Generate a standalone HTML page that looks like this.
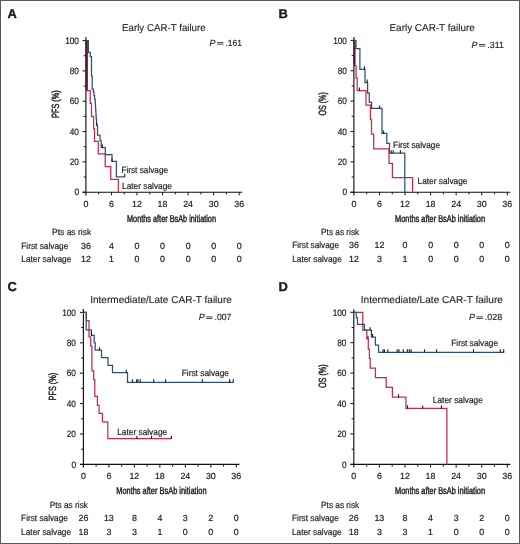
<!DOCTYPE html><html><head><meta charset="utf-8"><style>html,body{margin:0;padding:0;background:#fff;}svg{display:block;will-change:transform;}text{font-family:"Liberation Sans",sans-serif;fill:#1e1e1e;text-rendering:geometricPrecision;stroke-linejoin:round;}</style></head><body>
<svg width="520" height="544" viewBox="0 0 520 544">
<rect x="0" y="0" width="520" height="544" fill="#fff"/>
<line x1="85.90" y1="37.00" x2="85.90" y2="195.40" stroke="#111" stroke-width="1.15"/>
<line x1="82.50" y1="192.20" x2="242.30" y2="192.20" stroke="#111" stroke-width="1.15"/>
<line x1="82.50" y1="192.20" x2="85.90" y2="192.20" stroke="#111" stroke-width="1.0"/>
<line x1="83.70" y1="177.04" x2="85.90" y2="177.04" stroke="#111" stroke-width="1.0"/>
<line x1="82.50" y1="161.88" x2="85.90" y2="161.88" stroke="#111" stroke-width="1.0"/>
<text x="79.00" y="165.13" font-size="9.3" stroke="#1e1e1e" stroke-width="0.2" text-anchor="end" textLength="9.24" lengthAdjust="spacingAndGlyphs">20</text>
<line x1="83.70" y1="146.72" x2="85.90" y2="146.72" stroke="#111" stroke-width="1.0"/>
<line x1="82.50" y1="131.56" x2="85.90" y2="131.56" stroke="#111" stroke-width="1.0"/>
<text x="79.00" y="134.81" font-size="9.3" stroke="#1e1e1e" stroke-width="0.2" text-anchor="end" textLength="9.24" lengthAdjust="spacingAndGlyphs">40</text>
<line x1="83.70" y1="116.40" x2="85.90" y2="116.40" stroke="#111" stroke-width="1.0"/>
<line x1="82.50" y1="101.24" x2="85.90" y2="101.24" stroke="#111" stroke-width="1.0"/>
<text x="79.00" y="104.49" font-size="9.3" stroke="#1e1e1e" stroke-width="0.2" text-anchor="end" textLength="9.24" lengthAdjust="spacingAndGlyphs">60</text>
<line x1="83.70" y1="86.08" x2="85.90" y2="86.08" stroke="#111" stroke-width="1.0"/>
<line x1="82.50" y1="70.92" x2="85.90" y2="70.92" stroke="#111" stroke-width="1.0"/>
<text x="79.00" y="74.17" font-size="9.3" stroke="#1e1e1e" stroke-width="0.2" text-anchor="end" textLength="9.24" lengthAdjust="spacingAndGlyphs">80</text>
<line x1="83.70" y1="55.76" x2="85.90" y2="55.76" stroke="#111" stroke-width="1.0"/>
<line x1="82.50" y1="40.60" x2="85.90" y2="40.60" stroke="#111" stroke-width="1.0"/>
<text x="79.00" y="43.85" font-size="9.3" stroke="#1e1e1e" stroke-width="0.2" text-anchor="end" textLength="13.86" lengthAdjust="spacingAndGlyphs">100</text>
<text x="79.00" y="195.45" font-size="9.3" stroke="#1e1e1e" stroke-width="0.2" text-anchor="end" textLength="4.62" lengthAdjust="spacingAndGlyphs">0</text>
<text x="85.90" y="206.70" font-size="8.9" stroke="#1e1e1e" stroke-width="0.2" text-anchor="middle">0</text>
<line x1="98.68" y1="192.20" x2="98.68" y2="194.40" stroke="#111" stroke-width="1.0"/>
<line x1="111.45" y1="192.20" x2="111.45" y2="195.40" stroke="#111" stroke-width="1.0"/>
<text x="111.45" y="206.70" font-size="8.9" stroke="#1e1e1e" stroke-width="0.2" text-anchor="middle">6</text>
<line x1="124.22" y1="192.20" x2="124.22" y2="194.40" stroke="#111" stroke-width="1.0"/>
<line x1="137.00" y1="192.20" x2="137.00" y2="195.40" stroke="#111" stroke-width="1.0"/>
<text x="137.00" y="206.70" font-size="8.9" stroke="#1e1e1e" stroke-width="0.2" text-anchor="middle">12</text>
<line x1="149.78" y1="192.20" x2="149.78" y2="194.40" stroke="#111" stroke-width="1.0"/>
<line x1="162.55" y1="192.20" x2="162.55" y2="195.40" stroke="#111" stroke-width="1.0"/>
<text x="162.55" y="206.70" font-size="8.9" stroke="#1e1e1e" stroke-width="0.2" text-anchor="middle">18</text>
<line x1="175.32" y1="192.20" x2="175.32" y2="194.40" stroke="#111" stroke-width="1.0"/>
<line x1="188.10" y1="192.20" x2="188.10" y2="195.40" stroke="#111" stroke-width="1.0"/>
<text x="188.10" y="206.70" font-size="8.9" stroke="#1e1e1e" stroke-width="0.2" text-anchor="middle">24</text>
<line x1="200.88" y1="192.20" x2="200.88" y2="194.40" stroke="#111" stroke-width="1.0"/>
<line x1="213.65" y1="192.20" x2="213.65" y2="195.40" stroke="#111" stroke-width="1.0"/>
<text x="213.65" y="206.70" font-size="8.9" stroke="#1e1e1e" stroke-width="0.2" text-anchor="middle">30</text>
<line x1="226.42" y1="192.20" x2="226.42" y2="194.40" stroke="#111" stroke-width="1.0"/>
<line x1="239.20" y1="192.20" x2="239.20" y2="195.40" stroke="#111" stroke-width="1.0"/>
<text x="239.20" y="206.70" font-size="8.9" stroke="#1e1e1e" stroke-width="0.2" text-anchor="middle">36</text>
<line x1="353.90" y1="37.10" x2="353.90" y2="195.40" stroke="#111" stroke-width="1.15"/>
<line x1="350.50" y1="192.20" x2="510.40" y2="192.20" stroke="#111" stroke-width="1.15"/>
<line x1="350.50" y1="192.20" x2="353.90" y2="192.20" stroke="#111" stroke-width="1.0"/>
<line x1="351.70" y1="177.02" x2="353.90" y2="177.02" stroke="#111" stroke-width="1.0"/>
<line x1="350.50" y1="161.84" x2="353.90" y2="161.84" stroke="#111" stroke-width="1.0"/>
<text x="347.00" y="165.09" font-size="9.3" stroke="#1e1e1e" stroke-width="0.2" text-anchor="end" textLength="9.24" lengthAdjust="spacingAndGlyphs">20</text>
<line x1="351.70" y1="146.66" x2="353.90" y2="146.66" stroke="#111" stroke-width="1.0"/>
<line x1="350.50" y1="131.48" x2="353.90" y2="131.48" stroke="#111" stroke-width="1.0"/>
<text x="347.00" y="134.73" font-size="9.3" stroke="#1e1e1e" stroke-width="0.2" text-anchor="end" textLength="9.24" lengthAdjust="spacingAndGlyphs">40</text>
<line x1="351.70" y1="116.30" x2="353.90" y2="116.30" stroke="#111" stroke-width="1.0"/>
<line x1="350.50" y1="101.12" x2="353.90" y2="101.12" stroke="#111" stroke-width="1.0"/>
<text x="347.00" y="104.37" font-size="9.3" stroke="#1e1e1e" stroke-width="0.2" text-anchor="end" textLength="9.24" lengthAdjust="spacingAndGlyphs">60</text>
<line x1="351.70" y1="85.94" x2="353.90" y2="85.94" stroke="#111" stroke-width="1.0"/>
<line x1="350.50" y1="70.76" x2="353.90" y2="70.76" stroke="#111" stroke-width="1.0"/>
<text x="347.00" y="74.01" font-size="9.3" stroke="#1e1e1e" stroke-width="0.2" text-anchor="end" textLength="9.24" lengthAdjust="spacingAndGlyphs">80</text>
<line x1="351.70" y1="55.58" x2="353.90" y2="55.58" stroke="#111" stroke-width="1.0"/>
<line x1="350.50" y1="40.40" x2="353.90" y2="40.40" stroke="#111" stroke-width="1.0"/>
<text x="347.00" y="43.65" font-size="9.3" stroke="#1e1e1e" stroke-width="0.2" text-anchor="end" textLength="13.86" lengthAdjust="spacingAndGlyphs">100</text>
<text x="347.00" y="195.45" font-size="9.3" stroke="#1e1e1e" stroke-width="0.2" text-anchor="end" textLength="4.62" lengthAdjust="spacingAndGlyphs">0</text>
<text x="353.90" y="206.70" font-size="8.9" stroke="#1e1e1e" stroke-width="0.2" text-anchor="middle">0</text>
<line x1="366.68" y1="192.20" x2="366.68" y2="194.40" stroke="#111" stroke-width="1.0"/>
<line x1="379.47" y1="192.20" x2="379.47" y2="195.40" stroke="#111" stroke-width="1.0"/>
<text x="379.47" y="206.70" font-size="8.9" stroke="#1e1e1e" stroke-width="0.2" text-anchor="middle">6</text>
<line x1="392.25" y1="192.20" x2="392.25" y2="194.40" stroke="#111" stroke-width="1.0"/>
<line x1="405.03" y1="192.20" x2="405.03" y2="195.40" stroke="#111" stroke-width="1.0"/>
<text x="405.03" y="206.70" font-size="8.9" stroke="#1e1e1e" stroke-width="0.2" text-anchor="middle">12</text>
<line x1="417.82" y1="192.20" x2="417.82" y2="194.40" stroke="#111" stroke-width="1.0"/>
<line x1="430.60" y1="192.20" x2="430.60" y2="195.40" stroke="#111" stroke-width="1.0"/>
<text x="430.60" y="206.70" font-size="8.9" stroke="#1e1e1e" stroke-width="0.2" text-anchor="middle">18</text>
<line x1="443.38" y1="192.20" x2="443.38" y2="194.40" stroke="#111" stroke-width="1.0"/>
<line x1="456.17" y1="192.20" x2="456.17" y2="195.40" stroke="#111" stroke-width="1.0"/>
<text x="456.17" y="206.70" font-size="8.9" stroke="#1e1e1e" stroke-width="0.2" text-anchor="middle">24</text>
<line x1="468.95" y1="192.20" x2="468.95" y2="194.40" stroke="#111" stroke-width="1.0"/>
<line x1="481.73" y1="192.20" x2="481.73" y2="195.40" stroke="#111" stroke-width="1.0"/>
<text x="481.73" y="206.70" font-size="8.9" stroke="#1e1e1e" stroke-width="0.2" text-anchor="middle">30</text>
<line x1="494.52" y1="192.20" x2="494.52" y2="194.40" stroke="#111" stroke-width="1.0"/>
<line x1="507.30" y1="192.20" x2="507.30" y2="195.40" stroke="#111" stroke-width="1.0"/>
<text x="507.30" y="206.70" font-size="8.9" stroke="#1e1e1e" stroke-width="0.2" text-anchor="middle">36</text>
<line x1="83.40" y1="309.00" x2="83.40" y2="467.60" stroke="#111" stroke-width="1.15"/>
<line x1="80.00" y1="464.40" x2="239.40" y2="464.40" stroke="#111" stroke-width="1.15"/>
<line x1="80.00" y1="464.40" x2="83.40" y2="464.40" stroke="#111" stroke-width="1.0"/>
<line x1="81.20" y1="449.20" x2="83.40" y2="449.20" stroke="#111" stroke-width="1.0"/>
<line x1="80.00" y1="434.00" x2="83.40" y2="434.00" stroke="#111" stroke-width="1.0"/>
<text x="76.00" y="437.25" font-size="9.3" stroke="#1e1e1e" stroke-width="0.2" text-anchor="end" textLength="9.24" lengthAdjust="spacingAndGlyphs">20</text>
<line x1="81.20" y1="418.80" x2="83.40" y2="418.80" stroke="#111" stroke-width="1.0"/>
<line x1="80.00" y1="403.60" x2="83.40" y2="403.60" stroke="#111" stroke-width="1.0"/>
<text x="76.00" y="406.85" font-size="9.3" stroke="#1e1e1e" stroke-width="0.2" text-anchor="end" textLength="9.24" lengthAdjust="spacingAndGlyphs">40</text>
<line x1="81.20" y1="388.40" x2="83.40" y2="388.40" stroke="#111" stroke-width="1.0"/>
<line x1="80.00" y1="373.20" x2="83.40" y2="373.20" stroke="#111" stroke-width="1.0"/>
<text x="76.00" y="376.45" font-size="9.3" stroke="#1e1e1e" stroke-width="0.2" text-anchor="end" textLength="9.24" lengthAdjust="spacingAndGlyphs">60</text>
<line x1="81.20" y1="358.00" x2="83.40" y2="358.00" stroke="#111" stroke-width="1.0"/>
<line x1="80.00" y1="342.80" x2="83.40" y2="342.80" stroke="#111" stroke-width="1.0"/>
<text x="76.00" y="346.05" font-size="9.3" stroke="#1e1e1e" stroke-width="0.2" text-anchor="end" textLength="9.24" lengthAdjust="spacingAndGlyphs">80</text>
<line x1="81.20" y1="327.60" x2="83.40" y2="327.60" stroke="#111" stroke-width="1.0"/>
<line x1="80.00" y1="312.40" x2="83.40" y2="312.40" stroke="#111" stroke-width="1.0"/>
<text x="76.00" y="315.65" font-size="9.3" stroke="#1e1e1e" stroke-width="0.2" text-anchor="end" textLength="13.86" lengthAdjust="spacingAndGlyphs">100</text>
<text x="76.00" y="467.65" font-size="9.3" stroke="#1e1e1e" stroke-width="0.2" text-anchor="end" textLength="4.62" lengthAdjust="spacingAndGlyphs">0</text>
<text x="83.40" y="478.90" font-size="8.9" stroke="#1e1e1e" stroke-width="0.2" text-anchor="middle">0</text>
<line x1="96.14" y1="464.40" x2="96.14" y2="466.60" stroke="#111" stroke-width="1.0"/>
<line x1="108.88" y1="464.40" x2="108.88" y2="467.60" stroke="#111" stroke-width="1.0"/>
<text x="108.88" y="478.90" font-size="8.9" stroke="#1e1e1e" stroke-width="0.2" text-anchor="middle">6</text>
<line x1="121.62" y1="464.40" x2="121.62" y2="466.60" stroke="#111" stroke-width="1.0"/>
<line x1="134.37" y1="464.40" x2="134.37" y2="467.60" stroke="#111" stroke-width="1.0"/>
<text x="134.37" y="478.90" font-size="8.9" stroke="#1e1e1e" stroke-width="0.2" text-anchor="middle">12</text>
<line x1="147.11" y1="464.40" x2="147.11" y2="466.60" stroke="#111" stroke-width="1.0"/>
<line x1="159.85" y1="464.40" x2="159.85" y2="467.60" stroke="#111" stroke-width="1.0"/>
<text x="159.85" y="478.90" font-size="8.9" stroke="#1e1e1e" stroke-width="0.2" text-anchor="middle">18</text>
<line x1="172.59" y1="464.40" x2="172.59" y2="466.60" stroke="#111" stroke-width="1.0"/>
<line x1="185.33" y1="464.40" x2="185.33" y2="467.60" stroke="#111" stroke-width="1.0"/>
<text x="185.33" y="478.90" font-size="8.9" stroke="#1e1e1e" stroke-width="0.2" text-anchor="middle">24</text>
<line x1="198.08" y1="464.40" x2="198.08" y2="466.60" stroke="#111" stroke-width="1.0"/>
<line x1="210.82" y1="464.40" x2="210.82" y2="467.60" stroke="#111" stroke-width="1.0"/>
<text x="210.82" y="478.90" font-size="8.9" stroke="#1e1e1e" stroke-width="0.2" text-anchor="middle">30</text>
<line x1="223.56" y1="464.40" x2="223.56" y2="466.60" stroke="#111" stroke-width="1.0"/>
<line x1="236.30" y1="464.40" x2="236.30" y2="467.60" stroke="#111" stroke-width="1.0"/>
<text x="236.30" y="478.90" font-size="8.9" stroke="#1e1e1e" stroke-width="0.2" text-anchor="middle">36</text>
<line x1="353.80" y1="309.20" x2="353.80" y2="467.60" stroke="#111" stroke-width="1.15"/>
<line x1="350.40" y1="464.40" x2="510.40" y2="464.40" stroke="#111" stroke-width="1.15"/>
<line x1="350.40" y1="464.40" x2="353.80" y2="464.40" stroke="#111" stroke-width="1.0"/>
<line x1="351.60" y1="449.19" x2="353.80" y2="449.19" stroke="#111" stroke-width="1.0"/>
<line x1="350.40" y1="433.98" x2="353.80" y2="433.98" stroke="#111" stroke-width="1.0"/>
<text x="346.50" y="437.23" font-size="9.3" stroke="#1e1e1e" stroke-width="0.2" text-anchor="end" textLength="9.24" lengthAdjust="spacingAndGlyphs">20</text>
<line x1="351.60" y1="418.77" x2="353.80" y2="418.77" stroke="#111" stroke-width="1.0"/>
<line x1="350.40" y1="403.56" x2="353.80" y2="403.56" stroke="#111" stroke-width="1.0"/>
<text x="346.50" y="406.81" font-size="9.3" stroke="#1e1e1e" stroke-width="0.2" text-anchor="end" textLength="9.24" lengthAdjust="spacingAndGlyphs">40</text>
<line x1="351.60" y1="388.35" x2="353.80" y2="388.35" stroke="#111" stroke-width="1.0"/>
<line x1="350.40" y1="373.14" x2="353.80" y2="373.14" stroke="#111" stroke-width="1.0"/>
<text x="346.50" y="376.39" font-size="9.3" stroke="#1e1e1e" stroke-width="0.2" text-anchor="end" textLength="9.24" lengthAdjust="spacingAndGlyphs">60</text>
<line x1="351.60" y1="357.93" x2="353.80" y2="357.93" stroke="#111" stroke-width="1.0"/>
<line x1="350.40" y1="342.72" x2="353.80" y2="342.72" stroke="#111" stroke-width="1.0"/>
<text x="346.50" y="345.97" font-size="9.3" stroke="#1e1e1e" stroke-width="0.2" text-anchor="end" textLength="9.24" lengthAdjust="spacingAndGlyphs">80</text>
<line x1="351.60" y1="327.51" x2="353.80" y2="327.51" stroke="#111" stroke-width="1.0"/>
<line x1="350.40" y1="312.30" x2="353.80" y2="312.30" stroke="#111" stroke-width="1.0"/>
<text x="346.50" y="315.55" font-size="9.3" stroke="#1e1e1e" stroke-width="0.2" text-anchor="end" textLength="13.86" lengthAdjust="spacingAndGlyphs">100</text>
<text x="346.50" y="467.65" font-size="9.3" stroke="#1e1e1e" stroke-width="0.2" text-anchor="end" textLength="4.62" lengthAdjust="spacingAndGlyphs">0</text>
<text x="353.80" y="478.90" font-size="8.9" stroke="#1e1e1e" stroke-width="0.2" text-anchor="middle">0</text>
<line x1="366.59" y1="464.40" x2="366.59" y2="466.60" stroke="#111" stroke-width="1.0"/>
<line x1="379.38" y1="464.40" x2="379.38" y2="467.60" stroke="#111" stroke-width="1.0"/>
<text x="379.38" y="478.90" font-size="8.9" stroke="#1e1e1e" stroke-width="0.2" text-anchor="middle">6</text>
<line x1="392.18" y1="464.40" x2="392.18" y2="466.60" stroke="#111" stroke-width="1.0"/>
<line x1="404.97" y1="464.40" x2="404.97" y2="467.60" stroke="#111" stroke-width="1.0"/>
<text x="404.97" y="478.90" font-size="8.9" stroke="#1e1e1e" stroke-width="0.2" text-anchor="middle">12</text>
<line x1="417.76" y1="464.40" x2="417.76" y2="466.60" stroke="#111" stroke-width="1.0"/>
<line x1="430.55" y1="464.40" x2="430.55" y2="467.60" stroke="#111" stroke-width="1.0"/>
<text x="430.55" y="478.90" font-size="8.9" stroke="#1e1e1e" stroke-width="0.2" text-anchor="middle">18</text>
<line x1="443.34" y1="464.40" x2="443.34" y2="466.60" stroke="#111" stroke-width="1.0"/>
<line x1="456.13" y1="464.40" x2="456.13" y2="467.60" stroke="#111" stroke-width="1.0"/>
<text x="456.13" y="478.90" font-size="8.9" stroke="#1e1e1e" stroke-width="0.2" text-anchor="middle">24</text>
<line x1="468.93" y1="464.40" x2="468.93" y2="466.60" stroke="#111" stroke-width="1.0"/>
<line x1="481.72" y1="464.40" x2="481.72" y2="467.60" stroke="#111" stroke-width="1.0"/>
<text x="481.72" y="478.90" font-size="8.9" stroke="#1e1e1e" stroke-width="0.2" text-anchor="middle">30</text>
<line x1="494.51" y1="464.40" x2="494.51" y2="466.60" stroke="#111" stroke-width="1.0"/>
<line x1="507.30" y1="464.40" x2="507.30" y2="467.60" stroke="#111" stroke-width="1.0"/>
<text x="507.30" y="478.90" font-size="8.9" stroke="#1e1e1e" stroke-width="0.2" text-anchor="middle">36</text>
<text x="7.50" y="18.30" font-size="12.9" stroke="#000" stroke-width="0.3" font-weight="bold" fill="#000">A</text>
<text x="278.40" y="18.30" font-size="12.9" stroke="#000" stroke-width="0.3" font-weight="bold" fill="#000">B</text>
<text x="7.40" y="290.90" font-size="12.9" stroke="#000" stroke-width="0.3" font-weight="bold" fill="#000">C</text>
<text x="278.40" y="290.90" font-size="12.9" stroke="#000" stroke-width="0.3" font-weight="bold" fill="#000">D</text>
<text x="122.00" y="30.80" font-size="10.0" stroke="#1e1e1e" stroke-width="0.12" textLength="83.70" lengthAdjust="spacingAndGlyphs">Early CAR-T failure</text>
<text x="389.50" y="30.80" font-size="10.0" stroke="#1e1e1e" stroke-width="0.12" textLength="85.30" lengthAdjust="spacingAndGlyphs">Early CAR-T failure</text>
<text x="90.20" y="302.90" font-size="10.0" stroke="#1e1e1e" stroke-width="0.12" textLength="141.70" lengthAdjust="spacingAndGlyphs">Intermediate/Late CAR-T failure</text>
<text x="360.80" y="302.90" font-size="10.0" stroke="#1e1e1e" stroke-width="0.12" textLength="142.10" lengthAdjust="spacingAndGlyphs">Intermediate/Late CAR-T failure</text>
<text x="209.60" y="46.00" font-size="8.9" font-style="italic" stroke="#1e1e1e" stroke-width="0.15">P</text>
<line x1="217.10" y1="42.55" x2="223.40" y2="42.55" stroke="#2a2a2a" stroke-width="0.85"/>
<line x1="217.10" y1="44.20" x2="223.40" y2="44.20" stroke="#2a2a2a" stroke-width="0.85"/>
<text x="225.40" y="46.00" font-size="8.9" stroke="#1e1e1e" stroke-width="0.15" textLength="16.50" lengthAdjust="spacingAndGlyphs">.161</text>
<text x="471.50" y="47.90" font-size="8.9" font-style="italic" stroke="#1e1e1e" stroke-width="0.15">P</text>
<line x1="479.00" y1="44.45" x2="485.30" y2="44.45" stroke="#2a2a2a" stroke-width="0.85"/>
<line x1="479.00" y1="46.10" x2="485.30" y2="46.10" stroke="#2a2a2a" stroke-width="0.85"/>
<text x="487.30" y="47.90" font-size="8.9" stroke="#1e1e1e" stroke-width="0.15" textLength="16.60" lengthAdjust="spacingAndGlyphs">.311</text>
<text x="198.70" y="320.30" font-size="8.9" font-style="italic" stroke="#1e1e1e" stroke-width="0.15">P</text>
<line x1="206.20" y1="316.85" x2="212.50" y2="316.85" stroke="#2a2a2a" stroke-width="0.85"/>
<line x1="206.20" y1="318.50" x2="212.50" y2="318.50" stroke="#2a2a2a" stroke-width="0.85"/>
<text x="214.50" y="320.30" font-size="8.9" stroke="#1e1e1e" stroke-width="0.15" textLength="16.80" lengthAdjust="spacingAndGlyphs">.007</text>
<text x="469.00" y="320.30" font-size="8.9" font-style="italic" stroke="#1e1e1e" stroke-width="0.15">P</text>
<line x1="476.50" y1="316.85" x2="482.80" y2="316.85" stroke="#2a2a2a" stroke-width="0.85"/>
<line x1="476.50" y1="318.50" x2="482.80" y2="318.50" stroke="#2a2a2a" stroke-width="0.85"/>
<text x="484.80" y="320.30" font-size="8.9" stroke="#1e1e1e" stroke-width="0.15" textLength="17.50" lengthAdjust="spacingAndGlyphs">.028</text>
<text transform="translate(58.60,104.10) rotate(-90)" x="0" y="0" font-size="10.4" stroke="#1e1e1e" stroke-width="0.45" text-anchor="middle" textLength="27.60" lengthAdjust="spacingAndGlyphs">PFS (%)</text>
<text transform="translate(326.40,103.90) rotate(-90)" x="0" y="0" font-size="10.4" stroke="#1e1e1e" stroke-width="0.45" text-anchor="middle" textLength="23.40" lengthAdjust="spacingAndGlyphs">OS (%)</text>
<text transform="translate(55.60,386.60) rotate(-90)" x="0" y="0" font-size="10.4" stroke="#1e1e1e" stroke-width="0.45" text-anchor="middle" textLength="27.80" lengthAdjust="spacingAndGlyphs">PFS (%)</text>
<text transform="translate(326.40,376.20) rotate(-90)" x="0" y="0" font-size="10.4" stroke="#1e1e1e" stroke-width="0.45" text-anchor="middle" textLength="23.80" lengthAdjust="spacingAndGlyphs">OS (%)</text>
<text x="127.00" y="221.60" font-size="10.0" stroke="#1e1e1e" stroke-width="0.45" textLength="89.00" lengthAdjust="spacingAndGlyphs">Months after BsAb initiation</text>
<text x="395.00" y="221.80" font-size="10.0" stroke="#1e1e1e" stroke-width="0.45" textLength="90.00" lengthAdjust="spacingAndGlyphs">Months after BsAb initiation</text>
<text x="116.20" y="493.70" font-size="10.0" stroke="#1e1e1e" stroke-width="0.45" textLength="90.40" lengthAdjust="spacingAndGlyphs">Months after BsAb initiation</text>
<text x="395.00" y="494.00" font-size="10.0" stroke="#1e1e1e" stroke-width="0.45" textLength="90.00" lengthAdjust="spacingAndGlyphs">Months after BsAb initiation</text>
<text x="52.00" y="234.50" font-size="9.0" stroke="#1e1e1e" stroke-width="0.2" textLength="39.20" lengthAdjust="spacingAndGlyphs">Pts as risk</text>
<text x="21.30" y="248.50" font-size="9.0" stroke="#1e1e1e" stroke-width="0.2" textLength="47.00" lengthAdjust="spacingAndGlyphs">First salvage</text>
<text x="21.30" y="261.90" font-size="9.0" stroke="#1e1e1e" stroke-width="0.2" textLength="50.00" lengthAdjust="spacingAndGlyphs">Later salvage</text>
<text x="85.90" y="248.50" font-size="8.9" stroke="#1e1e1e" stroke-width="0.2" text-anchor="middle">36</text>
<text x="85.90" y="261.90" font-size="8.9" stroke="#1e1e1e" stroke-width="0.2" text-anchor="middle">12</text>
<text x="111.45" y="248.50" font-size="8.9" stroke="#1e1e1e" stroke-width="0.2" text-anchor="middle">4</text>
<text x="111.45" y="261.90" font-size="8.9" stroke="#1e1e1e" stroke-width="0.2" text-anchor="middle">1</text>
<text x="137.00" y="248.50" font-size="8.9" stroke="#1e1e1e" stroke-width="0.2" text-anchor="middle">0</text>
<text x="137.00" y="261.90" font-size="8.9" stroke="#1e1e1e" stroke-width="0.2" text-anchor="middle">0</text>
<text x="162.55" y="248.50" font-size="8.9" stroke="#1e1e1e" stroke-width="0.2" text-anchor="middle">0</text>
<text x="162.55" y="261.90" font-size="8.9" stroke="#1e1e1e" stroke-width="0.2" text-anchor="middle">0</text>
<text x="188.10" y="248.50" font-size="8.9" stroke="#1e1e1e" stroke-width="0.2" text-anchor="middle">0</text>
<text x="188.10" y="261.90" font-size="8.9" stroke="#1e1e1e" stroke-width="0.2" text-anchor="middle">0</text>
<text x="213.65" y="248.50" font-size="8.9" stroke="#1e1e1e" stroke-width="0.2" text-anchor="middle">0</text>
<text x="213.65" y="261.90" font-size="8.9" stroke="#1e1e1e" stroke-width="0.2" text-anchor="middle">0</text>
<text x="239.20" y="248.50" font-size="8.9" stroke="#1e1e1e" stroke-width="0.2" text-anchor="middle">0</text>
<text x="239.20" y="261.90" font-size="8.9" stroke="#1e1e1e" stroke-width="0.2" text-anchor="middle">0</text>
<text x="321.10" y="234.70" font-size="9.0" stroke="#1e1e1e" stroke-width="0.2" textLength="38.10" lengthAdjust="spacingAndGlyphs">Pts as risk</text>
<text x="292.20" y="248.40" font-size="9.0" stroke="#1e1e1e" stroke-width="0.2" textLength="46.80" lengthAdjust="spacingAndGlyphs">First salvage</text>
<text x="292.20" y="261.80" font-size="9.0" stroke="#1e1e1e" stroke-width="0.2" textLength="49.60" lengthAdjust="spacingAndGlyphs">Later salvage</text>
<text x="353.90" y="248.40" font-size="8.9" stroke="#1e1e1e" stroke-width="0.2" text-anchor="middle">36</text>
<text x="353.90" y="261.80" font-size="8.9" stroke="#1e1e1e" stroke-width="0.2" text-anchor="middle">12</text>
<text x="379.47" y="248.40" font-size="8.9" stroke="#1e1e1e" stroke-width="0.2" text-anchor="middle">12</text>
<text x="379.47" y="261.80" font-size="8.9" stroke="#1e1e1e" stroke-width="0.2" text-anchor="middle">3</text>
<text x="405.03" y="248.40" font-size="8.9" stroke="#1e1e1e" stroke-width="0.2" text-anchor="middle">0</text>
<text x="405.03" y="261.80" font-size="8.9" stroke="#1e1e1e" stroke-width="0.2" text-anchor="middle">1</text>
<text x="430.60" y="248.40" font-size="8.9" stroke="#1e1e1e" stroke-width="0.2" text-anchor="middle">0</text>
<text x="430.60" y="261.80" font-size="8.9" stroke="#1e1e1e" stroke-width="0.2" text-anchor="middle">0</text>
<text x="456.17" y="248.40" font-size="8.9" stroke="#1e1e1e" stroke-width="0.2" text-anchor="middle">0</text>
<text x="456.17" y="261.80" font-size="8.9" stroke="#1e1e1e" stroke-width="0.2" text-anchor="middle">0</text>
<text x="481.73" y="248.40" font-size="8.9" stroke="#1e1e1e" stroke-width="0.2" text-anchor="middle">0</text>
<text x="481.73" y="261.80" font-size="8.9" stroke="#1e1e1e" stroke-width="0.2" text-anchor="middle">0</text>
<text x="507.30" y="248.40" font-size="8.9" stroke="#1e1e1e" stroke-width="0.2" text-anchor="middle">0</text>
<text x="507.30" y="261.80" font-size="8.9" stroke="#1e1e1e" stroke-width="0.2" text-anchor="middle">0</text>
<text x="49.70" y="507.70" font-size="9.0" stroke="#1e1e1e" stroke-width="0.2" textLength="38.30" lengthAdjust="spacingAndGlyphs">Pts as risk</text>
<text x="21.10" y="521.30" font-size="9.0" stroke="#1e1e1e" stroke-width="0.2" textLength="46.80" lengthAdjust="spacingAndGlyphs">First salvage</text>
<text x="21.10" y="534.60" font-size="9.0" stroke="#1e1e1e" stroke-width="0.2" textLength="50.00" lengthAdjust="spacingAndGlyphs">Later salvage</text>
<text x="83.40" y="521.30" font-size="8.9" stroke="#1e1e1e" stroke-width="0.2" text-anchor="middle">26</text>
<text x="83.40" y="534.60" font-size="8.9" stroke="#1e1e1e" stroke-width="0.2" text-anchor="middle">18</text>
<text x="108.88" y="521.30" font-size="8.9" stroke="#1e1e1e" stroke-width="0.2" text-anchor="middle">13</text>
<text x="108.88" y="534.60" font-size="8.9" stroke="#1e1e1e" stroke-width="0.2" text-anchor="middle">3</text>
<text x="134.37" y="521.30" font-size="8.9" stroke="#1e1e1e" stroke-width="0.2" text-anchor="middle">8</text>
<text x="134.37" y="534.60" font-size="8.9" stroke="#1e1e1e" stroke-width="0.2" text-anchor="middle">3</text>
<text x="159.85" y="521.30" font-size="8.9" stroke="#1e1e1e" stroke-width="0.2" text-anchor="middle">4</text>
<text x="159.85" y="534.60" font-size="8.9" stroke="#1e1e1e" stroke-width="0.2" text-anchor="middle">1</text>
<text x="185.33" y="521.30" font-size="8.9" stroke="#1e1e1e" stroke-width="0.2" text-anchor="middle">3</text>
<text x="185.33" y="534.60" font-size="8.9" stroke="#1e1e1e" stroke-width="0.2" text-anchor="middle">0</text>
<text x="210.82" y="521.30" font-size="8.9" stroke="#1e1e1e" stroke-width="0.2" text-anchor="middle">2</text>
<text x="210.82" y="534.60" font-size="8.9" stroke="#1e1e1e" stroke-width="0.2" text-anchor="middle">0</text>
<text x="236.30" y="521.30" font-size="8.9" stroke="#1e1e1e" stroke-width="0.2" text-anchor="middle">0</text>
<text x="236.30" y="534.60" font-size="8.9" stroke="#1e1e1e" stroke-width="0.2" text-anchor="middle">0</text>
<text x="321.10" y="507.70" font-size="9.0" stroke="#1e1e1e" stroke-width="0.2" textLength="38.10" lengthAdjust="spacingAndGlyphs">Pts as risk</text>
<text x="292.00" y="521.30" font-size="9.0" stroke="#1e1e1e" stroke-width="0.2" textLength="46.80" lengthAdjust="spacingAndGlyphs">First salvage</text>
<text x="292.00" y="534.60" font-size="9.0" stroke="#1e1e1e" stroke-width="0.2" textLength="49.60" lengthAdjust="spacingAndGlyphs">Later salvage</text>
<text x="353.80" y="521.30" font-size="8.9" stroke="#1e1e1e" stroke-width="0.2" text-anchor="middle">26</text>
<text x="353.80" y="534.60" font-size="8.9" stroke="#1e1e1e" stroke-width="0.2" text-anchor="middle">18</text>
<text x="379.38" y="521.30" font-size="8.9" stroke="#1e1e1e" stroke-width="0.2" text-anchor="middle">13</text>
<text x="379.38" y="534.60" font-size="8.9" stroke="#1e1e1e" stroke-width="0.2" text-anchor="middle">3</text>
<text x="404.97" y="521.30" font-size="8.9" stroke="#1e1e1e" stroke-width="0.2" text-anchor="middle">8</text>
<text x="404.97" y="534.60" font-size="8.9" stroke="#1e1e1e" stroke-width="0.2" text-anchor="middle">3</text>
<text x="430.55" y="521.30" font-size="8.9" stroke="#1e1e1e" stroke-width="0.2" text-anchor="middle">4</text>
<text x="430.55" y="534.60" font-size="8.9" stroke="#1e1e1e" stroke-width="0.2" text-anchor="middle">1</text>
<text x="456.13" y="521.30" font-size="8.9" stroke="#1e1e1e" stroke-width="0.2" text-anchor="middle">3</text>
<text x="456.13" y="534.60" font-size="8.9" stroke="#1e1e1e" stroke-width="0.2" text-anchor="middle">0</text>
<text x="481.72" y="521.30" font-size="8.9" stroke="#1e1e1e" stroke-width="0.2" text-anchor="middle">2</text>
<text x="481.72" y="534.60" font-size="8.9" stroke="#1e1e1e" stroke-width="0.2" text-anchor="middle">0</text>
<text x="507.30" y="521.30" font-size="8.9" stroke="#1e1e1e" stroke-width="0.2" text-anchor="middle">0</text>
<text x="507.30" y="534.60" font-size="8.9" stroke="#1e1e1e" stroke-width="0.2" text-anchor="middle">0</text>
<text x="121.40" y="172.80" font-size="9.0" stroke="#1e1e1e" stroke-width="0.2" textLength="46.70" lengthAdjust="spacingAndGlyphs">First salvage</text>
<text x="122.10" y="188.90" font-size="9.0" stroke="#1e1e1e" stroke-width="0.2" textLength="49.80" lengthAdjust="spacingAndGlyphs">Later salvage</text>
<text x="393.10" y="147.70" font-size="9.0" stroke="#1e1e1e" stroke-width="0.2" textLength="46.90" lengthAdjust="spacingAndGlyphs">First salvage</text>
<text x="417.50" y="184.20" font-size="9.0" stroke="#1e1e1e" stroke-width="0.2" textLength="50.00" lengthAdjust="spacingAndGlyphs">Later salvage</text>
<text x="181.70" y="376.00" font-size="9.0" stroke="#1e1e1e" stroke-width="0.2" textLength="47.30" lengthAdjust="spacingAndGlyphs">First salvage</text>
<text x="117.20" y="434.60" font-size="9.0" stroke="#1e1e1e" stroke-width="0.2" textLength="50.00" lengthAdjust="spacingAndGlyphs">Later salvage</text>
<text x="451.30" y="345.90" font-size="9.0" stroke="#1e1e1e" stroke-width="0.2" textLength="46.70" lengthAdjust="spacingAndGlyphs">First salvage</text>
<text x="432.80" y="402.80" font-size="9.0" stroke="#1e1e1e" stroke-width="0.2" textLength="50.10" lengthAdjust="spacingAndGlyphs">Later salvage</text>
<path d="M87.10,40.60 L87.10,90.70 L90.20,90.70 L90.20,103.30 L91.50,103.30 L91.50,116.30 L93.60,116.30 L93.60,128.60 L94.50,128.60 L94.50,141.40 L98.30,141.40 L98.30,153.90 L105.20,153.90 L105.20,166.60 L110.70,166.60 L110.70,179.30 L118.30,179.30 L118.30,192.20" fill="none" stroke="#c22d4e" stroke-width="1.25" stroke-linejoin="miter" stroke-linecap="butt"/>
<line x1="86.55" y1="40.6" x2="86.55" y2="90.4" stroke="#5e1a2e" stroke-width="2.3"/>
<path d="M85.90,40.60 L88.40,40.60 L88.40,52.40 L90.30,52.40 L90.30,56.60 L91.50,56.60 L91.50,76.00 L92.20,76.00 L92.20,89.00 L93.40,89.00 L93.40,92.00 L94.00,92.00 L94.00,95.67 L94.60,95.67 L94.60,99.33 L95.20,99.33 L95.20,103.00 L95.45,103.00 L95.45,107.00 L95.70,107.00 L95.70,111.00 L95.95,111.00 L95.95,115.00 L96.20,115.00 L96.20,119.00 L96.60,119.00 L96.60,125.30 L97.50,125.30 L97.50,135.00 L100.00,135.00 L100.00,140.70 L101.20,140.70 L101.20,147.60 L105.30,147.60 L105.30,154.50 L112.00,154.50 L112.00,161.40 L116.40,161.40 L116.40,176.80 L124.80,176.80" fill="none" stroke="#2e5079" stroke-width="1.25" stroke-linejoin="miter" stroke-linecap="butt"/>
<line x1="96.60" y1="125.60" x2="96.60" y2="122.30" stroke="#1a1a2a" stroke-width="1.1"/>
<line x1="102.40" y1="147.90" x2="102.40" y2="144.60" stroke="#1a1a2a" stroke-width="1.1"/>
<line x1="112.00" y1="161.70" x2="112.00" y2="158.40" stroke="#1a1a2a" stroke-width="1.1"/>
<line x1="124.80" y1="177.10" x2="124.80" y2="173.80" stroke="#1a1a2a" stroke-width="1.1"/>
<path d="M354.60,40.40 L354.60,65.80 L356.10,65.80 L356.10,78.00 L357.20,78.00 L357.20,90.60 L366.00,90.60 L366.00,105.10 L370.40,105.10 L370.40,119.50 L371.50,119.50 L371.50,134.20 L373.70,134.20 L373.70,148.80 L389.00,148.80 L389.00,163.30 L392.40,163.30 L392.40,177.60 L412.60,177.60 L412.60,192.20" fill="none" stroke="#c22d4e" stroke-width="1.25" stroke-linejoin="miter" stroke-linecap="butt"/>
<line x1="354.45" y1="40.4" x2="354.45" y2="65.6" stroke="#5e1a2e" stroke-width="2.0"/>
<path d="M353.90,40.40 L356.00,40.40 L356.00,48.70 L359.90,48.70 L359.90,69.30 L365.00,69.30 L365.00,82.50 L367.60,82.50 L367.60,93.10 L369.30,93.10 L369.30,102.40 L371.60,102.40 L371.60,108.40 L382.00,108.40 L382.00,133.40 L386.80,133.40 L386.80,143.30 L389.50,143.30 L389.50,153.20 L404.80,153.20 L404.80,192.20" fill="none" stroke="#2e5079" stroke-width="1.25" stroke-linejoin="miter" stroke-linecap="butt"/>
<line x1="364.40" y1="69.60" x2="364.40" y2="66.30" stroke="#1a1a2a" stroke-width="1.1"/>
<line x1="367.20" y1="82.80" x2="367.20" y2="79.50" stroke="#1a1a2a" stroke-width="1.1"/>
<line x1="379.60" y1="108.70" x2="379.60" y2="105.40" stroke="#1a1a2a" stroke-width="1.1"/>
<line x1="383.60" y1="133.70" x2="383.60" y2="130.40" stroke="#1a1a2a" stroke-width="1.1"/>
<line x1="391.20" y1="153.50" x2="391.20" y2="150.20" stroke="#1a1a2a" stroke-width="1.1"/>
<line x1="393.20" y1="153.50" x2="393.20" y2="150.20" stroke="#1a1a2a" stroke-width="1.1"/>
<line x1="400.40" y1="153.50" x2="400.40" y2="150.20" stroke="#1a1a2a" stroke-width="1.1"/>
<line x1="359.40" y1="90.90" x2="359.40" y2="87.60" stroke="#1a1a2a" stroke-width="1.1"/>
<path d="M83.40,312.40 L86.40,312.40 L86.40,320.60 L89.00,320.60 L89.00,336.90 L90.70,336.90 L90.70,346.20 L91.90,346.20 L91.90,370.90 L93.70,370.90 L93.70,379.70 L94.80,379.70 L94.80,396.40 L97.40,396.40 L97.40,405.40 L99.10,405.40 L99.10,413.30 L102.40,413.30 L102.40,421.90 L107.80,421.90 L107.80,438.70 L171.30,438.70" fill="none" stroke="#c22d4e" stroke-width="1.25" stroke-linejoin="miter" stroke-linecap="butt"/>
<path d="M83.40,312.40 L86.20,312.40 L86.20,329.80 L91.40,329.80 L91.40,335.40 L94.20,335.40 L94.20,342.80 L95.20,342.80 L95.20,350.20 L101.50,350.20 L101.50,357.60 L108.00,357.60 L108.00,365.30 L112.50,365.30 L112.50,372.70 L127.50,372.70 L127.50,382.30 L233.30,382.30" fill="none" stroke="#2e5079" stroke-width="1.25" stroke-linejoin="miter" stroke-linecap="butt"/>
<line x1="91.50" y1="335.70" x2="91.50" y2="332.40" stroke="#1a1a2a" stroke-width="1.1"/>
<line x1="99.40" y1="350.50" x2="99.40" y2="347.20" stroke="#1a1a2a" stroke-width="1.1"/>
<line x1="126.30" y1="373.00" x2="126.30" y2="369.70" stroke="#1a1a2a" stroke-width="1.1"/>
<line x1="132.50" y1="382.60" x2="132.50" y2="379.30" stroke="#1a1a2a" stroke-width="1.1"/>
<line x1="136.70" y1="382.60" x2="136.70" y2="379.30" stroke="#1a1a2a" stroke-width="1.1"/>
<line x1="137.90" y1="382.60" x2="137.90" y2="379.30" stroke="#1a1a2a" stroke-width="1.1"/>
<line x1="140.20" y1="382.60" x2="140.20" y2="379.30" stroke="#1a1a2a" stroke-width="1.1"/>
<line x1="153.70" y1="382.60" x2="153.70" y2="379.30" stroke="#1a1a2a" stroke-width="1.1"/>
<line x1="165.60" y1="382.60" x2="165.60" y2="379.30" stroke="#1a1a2a" stroke-width="1.1"/>
<line x1="202.30" y1="382.60" x2="202.30" y2="379.30" stroke="#1a1a2a" stroke-width="1.1"/>
<line x1="229.60" y1="382.60" x2="229.60" y2="379.30" stroke="#1a1a2a" stroke-width="1.1"/>
<line x1="233.30" y1="382.60" x2="233.30" y2="379.30" stroke="#1a1a2a" stroke-width="1.1"/>
<line x1="136.90" y1="439.00" x2="136.90" y2="435.70" stroke="#1a1a2a" stroke-width="1.1"/>
<line x1="151.50" y1="439.00" x2="151.50" y2="435.70" stroke="#1a1a2a" stroke-width="1.1"/>
<line x1="171.30" y1="439.00" x2="171.30" y2="435.70" stroke="#1a1a2a" stroke-width="1.1"/>
<path d="M353.80,312.30 L362.80,312.30 L362.80,330.10 L366.80,330.10 L366.80,338.80 L368.30,338.80 L368.30,349.00 L369.40,349.00 L369.40,358.40 L370.20,358.40 L370.20,368.00 L375.40,368.00 L375.40,377.50 L386.20,377.50 L386.20,387.40 L392.40,387.40 L392.40,397.20 L405.90,397.20 L405.90,408.40 L446.90,408.40 L446.90,464.40" fill="none" stroke="#c22d4e" stroke-width="1.25" stroke-linejoin="miter" stroke-linecap="butt"/>
<path d="M353.80,312.30 L356.30,312.30 L356.30,317.60 L357.50,317.60 L357.50,324.30 L364.40,324.30 L364.40,330.20 L371.40,330.20 L371.40,337.00 L375.40,337.00 L375.40,345.10 L378.60,345.10 L378.60,352.30 L504.20,352.30" fill="none" stroke="#2e5079" stroke-width="1.25" stroke-linejoin="miter" stroke-linecap="butt"/>
<line x1="370.10" y1="330.50" x2="370.10" y2="327.20" stroke="#1a1a2a" stroke-width="1.1"/>
<line x1="372.60" y1="337.30" x2="372.60" y2="334.00" stroke="#1a1a2a" stroke-width="1.1"/>
<line x1="383.10" y1="352.60" x2="383.10" y2="349.30" stroke="#1a1a2a" stroke-width="1.1"/>
<line x1="384.40" y1="352.60" x2="384.40" y2="349.30" stroke="#1a1a2a" stroke-width="1.1"/>
<line x1="387.80" y1="352.60" x2="387.80" y2="349.30" stroke="#1a1a2a" stroke-width="1.1"/>
<line x1="397.20" y1="352.60" x2="397.20" y2="349.30" stroke="#1a1a2a" stroke-width="1.1"/>
<line x1="399.00" y1="352.60" x2="399.00" y2="349.30" stroke="#1a1a2a" stroke-width="1.1"/>
<line x1="403.30" y1="352.60" x2="403.30" y2="349.30" stroke="#1a1a2a" stroke-width="1.1"/>
<line x1="407.30" y1="352.60" x2="407.30" y2="349.30" stroke="#1a1a2a" stroke-width="1.1"/>
<line x1="409.30" y1="352.60" x2="409.30" y2="349.30" stroke="#1a1a2a" stroke-width="1.1"/>
<line x1="411.10" y1="352.60" x2="411.10" y2="349.30" stroke="#1a1a2a" stroke-width="1.1"/>
<line x1="424.50" y1="352.60" x2="424.50" y2="349.30" stroke="#1a1a2a" stroke-width="1.1"/>
<line x1="436.60" y1="352.60" x2="436.60" y2="349.30" stroke="#1a1a2a" stroke-width="1.1"/>
<line x1="473.50" y1="352.60" x2="473.50" y2="349.30" stroke="#1a1a2a" stroke-width="1.1"/>
<line x1="500.30" y1="352.60" x2="500.30" y2="349.30" stroke="#1a1a2a" stroke-width="1.1"/>
<line x1="503.70" y1="352.60" x2="503.70" y2="349.30" stroke="#1a1a2a" stroke-width="1.1"/>
<line x1="368.00" y1="339.10" x2="368.00" y2="335.80" stroke="#1a1a2a" stroke-width="1.1"/>
<line x1="398.50" y1="397.50" x2="398.50" y2="394.20" stroke="#1a1a2a" stroke-width="1.1"/>
<line x1="407.50" y1="408.70" x2="407.50" y2="405.40" stroke="#1a1a2a" stroke-width="1.1"/>
<line x1="422.70" y1="408.70" x2="422.70" y2="405.40" stroke="#1a1a2a" stroke-width="1.1"/>
<line x1="441.40" y1="408.70" x2="441.40" y2="405.40" stroke="#1a1a2a" stroke-width="1.1"/>
<rect x="0.5" y="0.5" width="519" height="543" fill="none" stroke="#585858" stroke-width="1"/>
</svg></body></html>
